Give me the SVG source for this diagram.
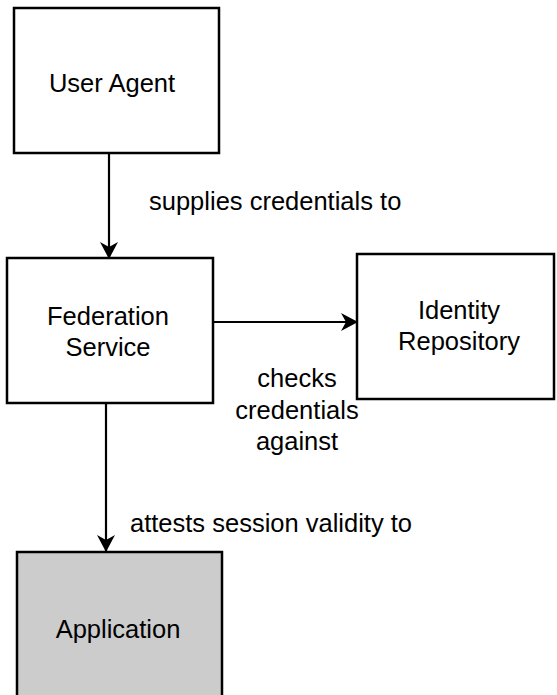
<svg xmlns="http://www.w3.org/2000/svg" width="557" height="695" viewBox="0 0 557 695">
<style>
.box{fill:#fff;stroke:#000;stroke-width:2.5}
.app{fill:#cccccc;stroke:#000;stroke-width:2.5}
.t{font-family:"Liberation Sans",Arial,sans-serif;font-size:25.5px;fill:#000;text-anchor:middle}
.l{font-family:"Liberation Sans",Arial,sans-serif;font-size:25.5px;fill:#000}
.c{stroke:#000;stroke-width:2.2;fill:none}
</style>
<defs>
<marker id="ah" markerUnits="userSpaceOnUse" markerWidth="20" markerHeight="20" viewBox="-17 -10 19 20" refX="0" refY="0" orient="auto">
<path d="M1,0 L-16,-9 L-11,0 L-16,9 Z" fill="#000"/>
</marker>
</defs>
<g id="edges">
<line class="c" x1="109" y1="153" x2="109" y2="258" marker-end="url(#ah)"/>
<line class="c" x1="213" y1="322" x2="357" y2="322" marker-end="url(#ah)"/>
<line class="c" x1="106" y1="401" x2="106" y2="551" marker-end="url(#ah)"/>
<text class="l" x="149" y="210">supplies credentials to</text>
<text class="t" x="297" y="387">checks</text>
<text class="t" x="297" y="418.5">credentials</text>
<text class="t" x="297" y="450">against</text>
<text class="l" x="130" y="532">attests session validity to</text>
</g>
<g id="user-agent">
<rect class="box" x="14" y="8" width="205" height="145"/>
<text class="t" x="112" y="92">User Agent</text>
</g>
<g id="federation-service">
<rect class="box" x="7" y="258" width="206" height="145"/>
<text class="t" x="108" y="325">Federation</text>
<text class="t" x="108" y="356">Service</text>
</g>
<g id="identity-repository">
<rect class="box" x="357" y="254" width="197" height="145"/>
<text class="t" x="459" y="319">Identity</text>
<text class="t" x="459" y="350">Repository</text>
</g>
<g id="application">
<rect class="app" x="17" y="552" width="205" height="150"/>
<text class="t" x="118" y="638">Application</text>
</g>
</svg>
